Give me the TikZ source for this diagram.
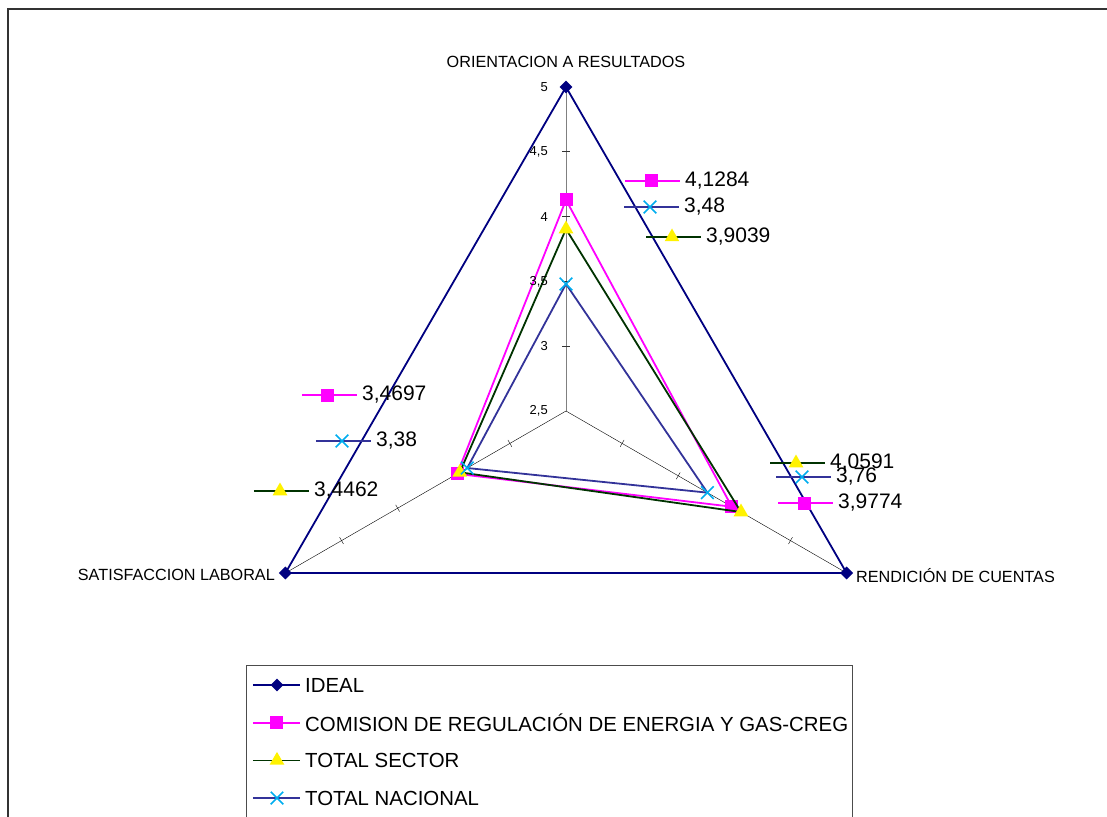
\documentclass[tikz,border=0pt]{standalone}
\usepackage{fontspec}
\setmainfont{Liberation Sans}
\usetikzlibrary{shapes.geometric,shapes.misc}
\definecolor{ideal}{HTML}{000080}
\definecolor{creg}{HTML}{FF00FF}
\definecolor{sector}{HTML}{003300}
\definecolor{nacional}{HTML}{333399}
\tikzset{
	lideal/.style={draw=ideal, line width=1.8pt},
	lcreg/.style={draw=creg, line width=1.8pt},
	lsector/.style={draw=sector, line width=1.8pt},
	lnacional/.style={draw=nacional, line width=1.8pt},
	mideal/.style={diamond, fill=ideal, inner sep=0pt, minimum size=13pt},
	mcreg/.style={rectangle, fill=creg, inner sep=0pt, minimum size=13pt},
	msector/.style={regular polygon, regular polygon sides=3, fill=yellow, inner sep=0pt, minimum size=17pt},
	mnacional/.style={cross out, draw=cyan, line width=1.6pt, inner sep=0pt, minimum size=11pt},
}
\begin{document}
\begin{tikzpicture}[x=1pt, y=1pt]
	\useasboundingbox (-566,411) rectangle (541,-405);
	\draw[line width=2pt, black!80] (-558,-420) -- (-558,401.5) -- (560,401.5);
	\begin{scope}[scale=129.6]
		\draw[gray, line width=1pt] (0,0) -- (90:2.5);
		\draw[thin] (0,0) -- (210:2.5) (0,0) -- (330:2.5);
		\foreach \v in {0.5, 1, ..., 2} {
			\draw[black!80, line width=1pt] (90:\v) ++(-0.03,0) -- ++(0.06,0);
			\foreach \a in {210, 330}
				\draw[thin] (\a:\v) ++(\a+90:0.03) -- ++(\a-90:0.06);
		}
		\draw[lideal] (90:2.5) -- (330:2.5) -- (210:2.5) -- cycle;
		\foreach \a in {90, 210, 330}
			\node[mideal] (ideal\a) at (\a:2.5) {};
		\foreach \s/\o/\r/\l in {creg/4.1284/3.9774/3.4697, sector/3.9039/4.0591/3.4462, nacional/3.48/3.76/3.38} {
			\draw[l\s] (90:{\o-2.5}) -- (330:{\r-2.5}) -- (210:{\l-2.5}) -- cycle;
			\node[m\s] (\s top) at (90:{\o-2.5}) {};
			\node[m\s] (\s right) at (330:{\r-2.5}) {};
			\node[m\s] (\s left) at (210:{\l-2.5}) {};
		}
	\end{scope}
	% scale values
	\foreach \y/\t in {0/{2,5}, 64.8/3, 129.6/{3,5}, 194.4/4, 259.2/{4,5}, 324/5}
		\node[anchor=east, inner sep=0pt, font=\fontsize{13}{14}\selectfont] (tick\y) at (-18,\y) {\t};
	% axis names
	\node[font=\fontsize{16.2}{18}\selectfont] (orient) at (0,349) {ORIENTACION A RESULTADOS};
	\node[anchor=east, inner sep=0pt, font=\fontsize{16.2}{18}\selectfont] (satisf) at (-291,-164) {SATISFACCION LABORAL};
	\node[anchor=west, inner sep=0pt, font=\fontsize{16.2}{18}\selectfont] (rendic) at (290,-165) {RENDICIÓN DE CUENTAS};
	% data labels
	\foreach \x/\y/\s/\t [count=\i] in {85/230/creg/{4,1284}, 84/204/nacional/{3,48}, 106/174/sector/{3,9039},
			-238/16/creg/{3,4697}, -224/-30/nacional/{3,38}, -286/-80/sector/{3,4462},
			230/-52/sector/{4,0591}, 236/-66/nacional/{3,76}, 238/-92/creg/{3,9774}} {
		\draw[l\s] (\x-26,\y) -- (\x+29,\y);
		\node[m\s] (key\i) at (\x,\y) {};
		\node[anchor=west, inner sep=0pt, font=\fontsize{21}{24}\selectfont] (val\i) at (\x+34,\y) {\t};
	}
	% legend
	\draw[black!70, line width=1pt] (-319,-420) -- (-319,-254) -- (286,-254) -- (286,-420);
	\foreach \s/\t [count=\i] in {ideal/IDEAL, creg/{COMISION DE REGULACIÓN DE ENERGIA Y GAS-CREG}, sector/TOTAL SECTOR, nacional/TOTAL NACIONAL} {
		\draw[l\s, line width=1.8pt] (-313,{-274-(\i-1)*37.7}) -- (-266,{-274-(\i-1)*37.7});
		\node[m\s] (lkey\i) at (-289,{-274-(\i-1)*37.7}) {};
		\node[anchor=west, inner sep=0pt, font=\fontsize{20.4}{24}\selectfont] (ltext\i) at (-261,{-274-(\i-1)*37.7}) {\t};
	}
\end{tikzpicture}
\end{document}
